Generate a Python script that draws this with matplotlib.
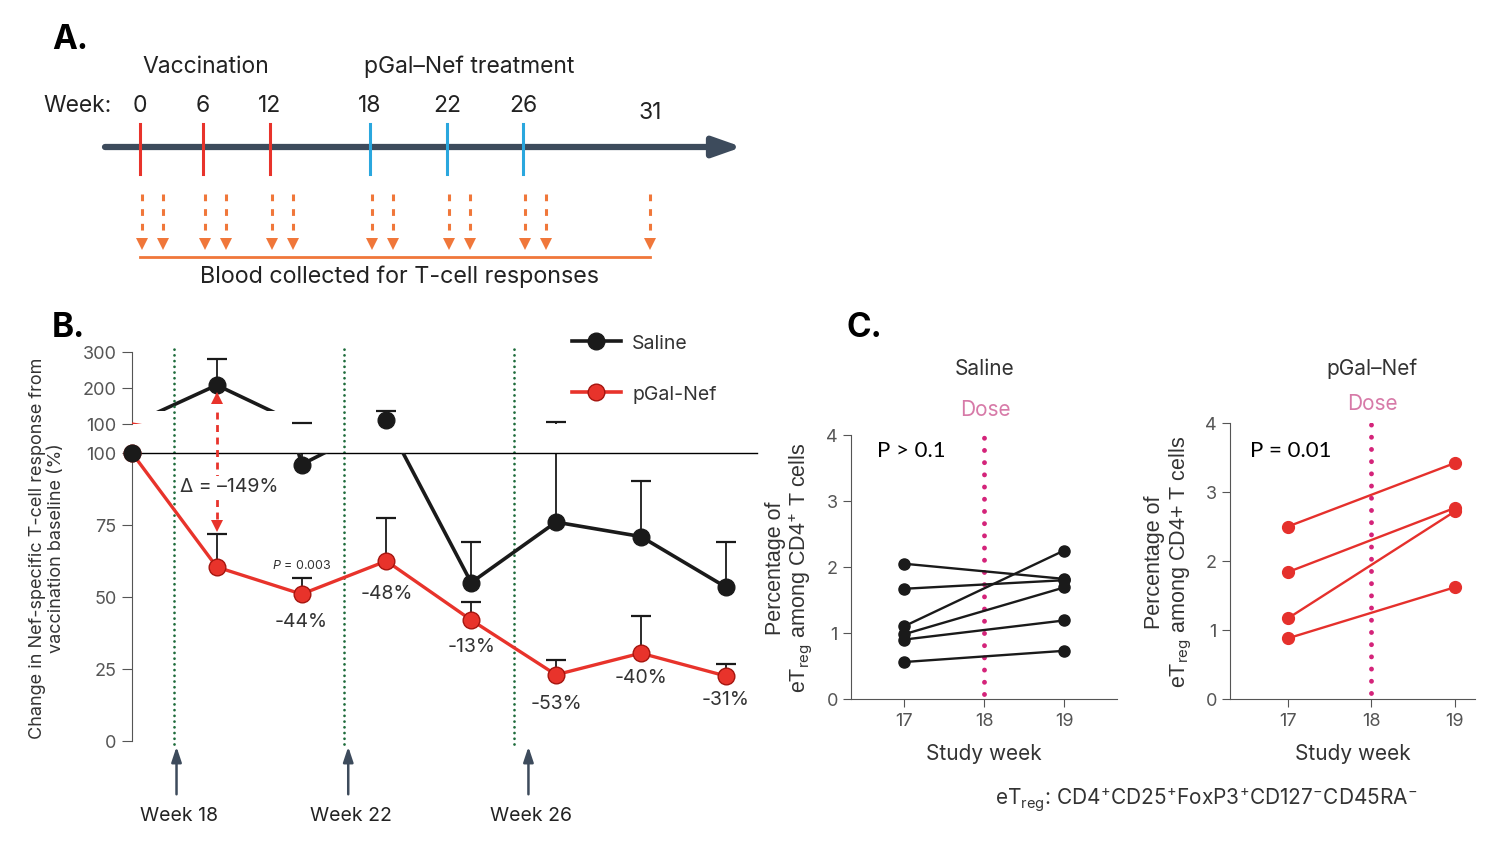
import numpy as np
import matplotlib.pyplot as plt
from matplotlib.lines import Line2D
from matplotlib.patches import Rectangle

W, H = 1498, 845
plt.rcParams['font.family'] = ['Inter', 'DejaVu Sans']
plt.rcParams['mathtext.fontset'] = 'custom'
plt.rcParams['mathtext.rm'] = 'Inter'
plt.rcParams['mathtext.it'] = 'Inter:italic'
plt.rcParams['mathtext.bf'] = 'Inter:bold'

# ---------------- Datos ----------------
# A: cronograma (semanas)
sem_vacuna = [0, 6, 12]
sem_trat = [18, 22, 26]
sem_final = 31
# posicion horizontal (px) de cada semana en el esquema
pos_A = {0: 140, 6: 203, 12: 270, 18: 370, 22: 447, 26: 523, 31: 650}

# B: cambio respecto a la linea base (%)
semanas = [17, 19, 21, 23, 25, 27, 29, 31]
saline = [100, 208, 96, 111, 55, 76, 71, 53.5]
saline_sup = [np.nan, 280, 104, 136, 69, 105.5, 90.3, 69]
pgal = [100, 60.4, 51, 62.5, 42, 23, 30.5, 22.6]
pgal_sup = [np.nan, 72, 56.6, 77.4, 48.3, 28, 43.4, 26.7]
cambios = ["-44%", "-48%", "-13%", "-53%", "-40%", "-31%"]  # semanas 21..31
delta = "Δ = –149%"
dosis_B = [18, 22, 26]

# C: eTreg (% de CD4+)
semanas_C = [17, 19]
sal_17 = [2.05, 1.67, 1.10, 0.98, 0.90, 0.56]
sal_19 = [1.82, 1.80, 2.25, 1.69, 1.19, 0.73]
pg_17 = [2.50, 1.84, 1.17, 0.88]
pg_19 = [3.42, 2.77, 2.72, 1.62]

# colores
negro = '#1a1a1a'
rojo = '#e8332b'
verde = '#1d6b3b'
magenta = '#d4247a'
naranja = '#f0773a'
azul = '#2aa7de'
pizarra = '#3d4b5c'
gris = '#555555'

fig = plt.figure(figsize=(W/100, H/100), dpi=100)

def px(x, y):
    return x/W, 1 - y/H

# ---------------- A ----------------
ax_a = fig.add_axes([0, 1-300/H, 760/W, 300/H])
ax_a.set_xlim(0, 760)
ax_a.set_ylim(300, 0)
ax_a.axis('off')

ax_a.annotate('', xy=(742, 148), xytext=(105, 148),
              arrowprops=dict(arrowstyle='-|>,head_length=1.7,head_width=0.6',
                              lw=4.5, color=pizarra, mutation_scale=10,
                              shrinkA=0, shrinkB=0))
for w in sem_vacuna + sem_trat:
    c = rojo if w in sem_vacuna else azul
    ax_a.plot([pos_A[w], pos_A[w]], [125, 175], color=c, lw=2.2, zorder=3)
for w in sem_vacuna + sem_trat + [sem_final]:
    yy = 113 if w == sem_final else 106
    ax_a.text(pos_A[w], yy, str(w), ha='center', va='center', fontsize=16.5, color='#222')
ax_a.text(43, 106, 'Week:', ha='left', va='center', fontsize=16.5, color='#222')
ax_a.text(206, 67, 'Vaccination', ha='center', va='center', fontsize=16.5, color='#222')
ax_a.text(469, 67, 'pGal–Nef treatment', ha='center', va='center', fontsize=16.5, color='#222')

# toma de sangre
tomas = []
for w in sem_vacuna + sem_trat:
    tomas += [pos_A[w] + 2, pos_A[w] + 23]
tomas.append(pos_A[sem_final])
for x in tomas:
    ax_a.plot([x, x], [195, 240], ls=(0, (2.2, 2.6)), lw=2.2, color=naranja)
    ax_a.plot(x, 245, marker='v', ms=9, mew=0, color=naranja)
ax_a.plot([tomas[0] - 2, tomas[-1]], [258, 258], lw=2, color=naranja)
ax_a.text(399, 277, 'Blood collected for T-cell responses', ha='center', va='center',
          fontsize=16.8, color='#222')

fig.text(*px(52, 40), 'A.', fontsize=24, fontweight='bold', va='center', ha='left')
fig.text(*px(52, 328), 'B.', fontsize=24, fontweight='bold', va='center', ha='left')
fig.text(*px(846, 328), 'C.', fontsize=24, fontweight='bold', va='center', ha='left')

# ---------------- B ----------------
x0, x1 = 132, 757
ax_up = fig.add_axes([x0/W, 1-425/H, (x1-x0)/W, 72/H])
ax_lo = fig.add_axes([x0/W, 1-742/H, (x1-x0)/W, 288/H])
xlim_B = (17, 17 + (x1 - x0)/42.4)

sem = np.array(semanas)
lineas_sal = {}
for ax in (ax_up, ax_lo):
    ax.set_xlim(*xlim_B)
    ax.patch.set_visible(False)
    ax.plot(semanas, pgal, color=rojo, lw=2.4, zorder=3)
    ax.vlines(semanas[1:], pgal[1:], pgal_sup[1:], color=negro, lw=1.3, zorder=2)
    ax.plot(semanas[1:], pgal_sup[1:], ls='none', marker='_', ms=14, mew=1.6, color=negro, zorder=2)
    lineas_sal[ax], = ax.plot(semanas, saline, color=negro, lw=2.6, zorder=4)
    ax.vlines(semanas[1:], saline[1:], saline_sup[1:], color=negro, lw=1.3, zorder=2)
    ax.plot(semanas[1:], saline_sup[1:], ls='none', marker='_', ms=14, mew=1.6, color=negro, zorder=2)
    for s in ['right', 'bottom', 'top']:
        ax.spines[s].set_visible(False)
    ax.spines['left'].set_color(gris)
    ax.set_xticks([])
    ax.tick_params(axis='y', length=7, color=gris, labelcolor=gris, labelsize=13, pad=4)

# en el tramo superior la linea solo se ve por encima del corte
corte = Rectangle((xlim_B[0], 135), xlim_B[1] - xlim_B[0], 200, transform=ax_up.transData,
                  fc='none', ec='none')
ax_up.add_patch(corte)
lineas_sal[ax_up].set_clip_path(corte)

ax_up.set_ylim(100, 300)
ax_up.set_yticks([100, 200, 300])
ax_lo.set_ylim(0, 100)
ax_lo.set_yticks([0, 25, 50, 75, 100])
ax_lo.spines['top'].set_visible(True)
ax_lo.spines['top'].set_linewidth(1)

# marcadores: cada punto en el eje que le corresponde
for vals, fc, ec in [(pgal, rojo, '#a5150f'), (saline, negro, negro)]:
    v = np.array(vals)
    bajo = v <= 100
    ax_lo.plot(sem[bajo], v[bajo], ls='none', marker='o', ms=12, mfc=fc, mec=ec, mew=1,
               clip_on=False, zorder=6)
    ax_up.plot(sem[~bajo], v[~bajo], ls='none', marker='o', ms=12, mfc=fc, mec=ec, mew=1,
               clip_on=False, zorder=6)

# lineas de dosis
for w in dosis_B:
    ax_lo.plot([w, w], [-0.01, 1.36], transform=ax_lo.get_xaxis_transform(), clip_on=False,
               color=verde, lw=2.0, ls=(0, (0.01, 2.05)), dash_capstyle='round', zorder=1)
flechas_x = [18.05, 22.1, 26.35]
for w, xf in zip(dosis_B, flechas_x):
    ax_lo.annotate('', xy=(xf, -0.02), xytext=(xf, -0.185),
                   xycoords=ax_lo.get_xaxis_transform(),
                   arrowprops=dict(arrowstyle='-|>,head_length=0.9,head_width=0.3',
                                   lw=1.8, color=pizarra, shrinkA=0, shrinkB=0),
                   annotation_clip=False)
    ax_lo.text(xf + 0.07, -0.257, f'Week {w}', transform=ax_lo.get_xaxis_transform(),
               ha='center', va='center', fontsize=14, color='#222')

# flecha delta
ax_lo.plot([19, 19], [77, 116], ls=(0, (2.5, 2)), lw=2, color=rojo, clip_on=False, zorder=5)
ax_lo.plot(19, 119, marker='^', ms=8, mew=0, color=rojo, clip_on=False, zorder=5)
ax_lo.plot(19, 74.8, marker='v', ms=8, mew=0, color=rojo, clip_on=False, zorder=5)
ax_lo.text(19.3, 88.5, delta, ha='center', va='center', fontsize=14, color='#333', zorder=7,
           bbox=dict(fc='white', ec='none', pad=1))
ax_lo.text(21, 61.2, r'$\mathit{P}$ = 0.003', ha='center', va='center', fontsize=9, color='#333')

dy_cambios = [-27, -32, -26, -28, -24, -23]
for i, (lab, dy) in enumerate(zip(cambios, dy_cambios)):
    ax_lo.annotate(lab, (semanas[i+2], pgal[i+2]), xytext=(0, dy), textcoords='offset pixels',
                   ha='center', va='center', fontsize=14, color='#333')

fig.text(*px(47, 548), 'Change in Nef-specific T-cell response from\nvaccination baseline (%)',
         rotation=90, ha='center', va='center', fontsize=13, color='#333', multialignment='center')

leg = [Line2D([], [], color=negro, lw=2.6, marker='o', ms=12, mfc=negro, mec=negro),
       Line2D([], [], color=rojo, lw=2.6, marker='o', ms=12, mfc=rojo, mec='#a5150f')]
fig.legend(leg, ['Saline', 'pGal-Nef'], loc='upper left', bbox_to_anchor=px(572, 335),
           frameon=False, fontsize=14, handlelength=2.5, handletextpad=0.6,
           labelspacing=1.7, borderpad=0, borderaxespad=0, labelcolor='#333')

# ---------------- C ----------------
def panel_c(rect, xlim, y17, y19, color, ms, ylab, ptxt, ppos, title, tpos, dpos):
    ax = fig.add_axes(rect)
    for a, b in zip(y17, y19):
        ax.plot(semanas_C, [a, b], color=color, lw=1.7, marker='o', ms=ms, zorder=3)
    ax.plot([18, 18], [0.08, 4.0], color=magenta, lw=3.5, ls=(0, (0.01, 2.5)),
            dash_capstyle='round', zorder=2)
    ax.set_xlim(*xlim)
    ax.set_ylim(0, 4)
    ax.set_xticks([17, 18, 19])
    ax.set_yticks([0, 1, 2, 3, 4])
    for s in ['right', 'top']:
        ax.spines[s].set_visible(False)
    for s in ['left', 'bottom']:
        ax.spines[s].set_color(gris)
    ax.tick_params(length=6, color=gris, labelcolor=gris, labelsize=13)
    ax.set_ylabel(ylab, fontsize=15.5, family='Liberation Sans', color='#333', linespacing=1.1)
    ax.yaxis.set_label_coords(-36 / (rect[2] * W), 0.5)
    ax.set_xlabel('Study week', fontsize=15, color='#333')
    ax.xaxis.set_label_coords(0.5, -44 / (rect[3] * H))
    fig.text(*px(*ppos), ptxt, family='Lato', fontsize=16, va='center', ha='left', color='k')
    fig.text(*px(*tpos), title, fontsize=15, ha='center', va='center', color='#333')
    fig.text(*px(*dpos), 'Dose', fontsize=15, ha='center', va='center', color='#d77aa8')
    return ax

panel_c([851/W, 1-700/H, 266/W, 264/H], (16.34, 19.66), sal_17, sal_19, negro, 8,
        'Percentage of\neT$_{\\mathrm{reg}}$ among CD4$^{+}$ T cells', 'P > 0.1', (877, 451),
        'Saline', (985, 369), (985, 410))
panel_c([1230/W, 1-700/H, 245/W, 276/H], (16.305, 19.24), pg_17, pg_19, '#e5302c', 8.5,
        'Percentage of\neT$_{\\mathrm{reg}}$ among CD4+ T cells', 'P = 0.01', (1250, 451),
        'pGal–Nef', (1372, 369), (1372, 404))

fig.text(*px(995, 800), 'eT$_{\\mathrm{reg}}$: CD4$^{+}$CD25$^{+}$FoxP3$^{+}$CD127$^{-}$CD45RA$^{-}$',
         fontsize=15, ha='left', va='center', color='#333')

fig.savefig('out.png', dpi=100)
